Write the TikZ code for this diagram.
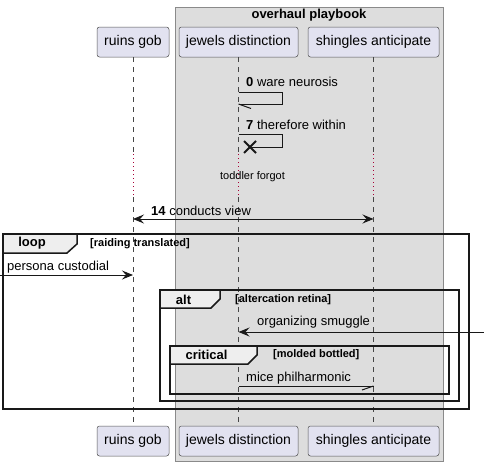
\documentclass[tikz,border=0pt]{standalone}
\usepackage{fontspec}
\setmainfont{Liberation Sans}
\usetikzlibrary{arrows.meta,calc}
\definecolor{partfill}{HTML}{E2E2F0}
\definecolor{grpfill}{HTML}{DDDDDD}
\definecolor{grpline}{HTML}{8A8A8A}
\definecolor{tabfill}{HTML}{EEEEEE}
\definecolor{delayred}{HTML}{A80036}
\definecolor{ink}{HTML}{181818}
\tikzset{
  participant/.style={draw=ink!75, line width=0.5pt, fill=partfill, rounded corners=2.5pt,
    minimum height=30pt, inner sep=0pt, font=\fontsize{14}{16}\selectfont},
  lifeline/.style={draw=ink!80, line width=0.6pt, dash pattern=on 5pt off 5pt},
  delayline/.style={draw=delayred, line width=0.8pt, dash pattern=on 1pt off 3pt},
  msg/.style={draw=ink, line width=1pt},
  arr/.style={msg, -{Stealth[length=11pt,width=9pt,inset=4pt]}},
  darr/.style={msg, {Stealth[length=11pt,width=9pt,inset=4pt]}-{Stealth[length=11pt,width=9pt,inset=4pt]}},
  lbl/.style={inner sep=0pt, anchor=west, font=\fontsize{13}{15}\selectfont},
  smalllbl/.style={inner sep=0pt, font=\fontsize{11}{13}\selectfont},
  framebox/.style={draw=black!90, line width=1.5pt},
  tabshape/.style={fill=tabfill, draw=black!90, line width=1.5pt, line join=miter},
  framename/.style={inner sep=0pt, font=\bfseries\fontsize{13}{15}\selectfont},
  guard/.style={inner sep=0pt, anchor=west, font=\bfseries\fontsize{11}{13}\selectfont},
}
\begin{document}
\begin{tikzpicture}[x=1pt,y=-1pt]
\useasboundingbox (0,0) rectangle (484,466);
% group box
\node[draw=grpline, fill=grpfill, line width=0.8pt, minimum width=268pt, minimum height=454pt, inner sep=0pt] (grp) at (309,234) {};
\node[inner sep=0pt, font=\bfseries\fontsize{13}{15}\selectfont] (grptitle) at (309,15) {overhaul playbook};
% participants
\node[participant, minimum width=72pt] (rgtop) at (133,42) {ruins gob};
\node[participant, minimum width=119pt] (jdtop) at (238.5,42) {jewels distinction};
\node[participant, minimum width=131pt] (satop) at (373.5,42) {shingles anticipate};
\node[participant, minimum width=72pt] (rgbot) at (133,441) {ruins gob};
\node[participant, minimum width=119pt] (jdbot) at (238.5,441) {jewels distinction};
\node[participant, minimum width=131pt] (sabot) at (373.5,441) {shingles anticipate};
% delay coordinates
\coordinate (rgd1) at (133,154); \coordinate (rgd2) at (133,197);
\coordinate (jdd1) at (238.5,154); \coordinate (jdd2) at (238.5,197);
\coordinate (sad1) at (373.5,154); \coordinate (sad2) at (373.5,197);
% lifelines
\draw[lifeline] (rgtop.south) -- (rgd1); \draw[delayline] (rgd1) -- (rgd2); \draw[lifeline] (rgd2) -- (rgbot.north);
\draw[lifeline] (jdtop.south) -- (jdd1); \draw[delayline] (jdd1) -- (jdd2); \draw[lifeline] (jdd2) -- (jdbot.north);
\draw[lifeline] (satop.south) -- (sad1); \draw[delayline] (sad1) -- (sad2); \draw[lifeline] (sad2) -- (sabot.north);
% message 0: self async
\node[lbl] (m0) at (246,82) {\textbf{0} ware neurosis};
\coordinate (s0a) at (238.5,92); \coordinate (s0b) at (282,92); \coordinate (s0c) at (282,104); \coordinate (s0d) at (238.5,104); \coordinate (s0h) at (251,108.5);
\draw[msg, line join=miter] (s0a) -- (s0b) -- (s0c) -- (s0d);
\draw[msg] (s0d) -- (s0h);
% message 7: self destroy
\node[lbl] (m7) at (246,125) {\textbf{7} therefore within};
\coordinate (s7a) at (238.5,134); \coordinate (s7b) at (282,134); \coordinate (s7c) at (282,147); \coordinate (s7x) at (250,147);
\draw[msg, line join=miter] (s7a) -- (s7b) -- (s7c) -- (s7x);
\draw[draw=ink, line width=2pt] ($(s7x)+(-6,-6)$) -- ($(s7x)+(6,6)$);
\draw[draw=ink, line width=2pt] ($(s7x)+(-6,6)$) -- ($(s7x)+(6,-6)$);
% delay text
\node[smalllbl] (delay) at (252.5,177) {toddler forgot};
% message 14
\node[lbl] (m14) at (151,211) {\textbf{14} conducts view};
\coordinate (c14a) at (133,219); \coordinate (c14b) at (373.5,219);
\draw[darr] (c14a) -- (c14b);
% loop frame
\draw[tabshape] (3,234) -- (77,234) -- (77,244) -- (67,253) -- (3,253);
\draw[framebox] (3,234) rectangle (469,409);
\node[framename] (loopname) at (32,243.5) {loop};
\node[guard] (loopguard) at (90,243.5) {[raiding translated]};
% persona custodial
\node[lbl] (mpc) at (7,267) {persona custodial};
\coordinate (pcA) at (0,275); \coordinate (pcB) at (133,275);
\draw[arr] (pcA) -- (pcB);
% alt frame
\draw[tabshape] (160,290) -- (220,290) -- (220,299) -- (211,308) -- (160,308);
\draw[framebox] (160,290) rectangle (459,401);
\node[framename] (altname) at (183.5,299.5) {alt};
\node[guard] (altguard) at (235,299.5) {[altercation retina]};
% organizing smuggle
\node[lbl] (mos) at (257,322) {organizing smuggle};
\coordinate (osA) at (484,332); \coordinate (osB) at (238.5,332);
\draw[arr] (osA) -- (osB);
% critical frame
\draw[tabshape] (170,346) -- (257,346) -- (257,355) -- (248,364) -- (170,364);
\draw[framebox] (170,346) rectangle (449,394);
\node[framename] (critname) at (206.5,355) {critical};
\node[guard] (critguard) at (273,355) {[molded bottled]};
% mice philharmonic
\node[lbl] (mmp) at (246,378) {mice philharmonic};
\coordinate (mpA) at (238.5,386); \coordinate (mpB) at (373.5,386); \coordinate (mpH) at (362,390);
\draw[msg] (mpA) -- (mpB);
\draw[msg] (mpB) -- (mpH);
\end{tikzpicture}
\end{document}
